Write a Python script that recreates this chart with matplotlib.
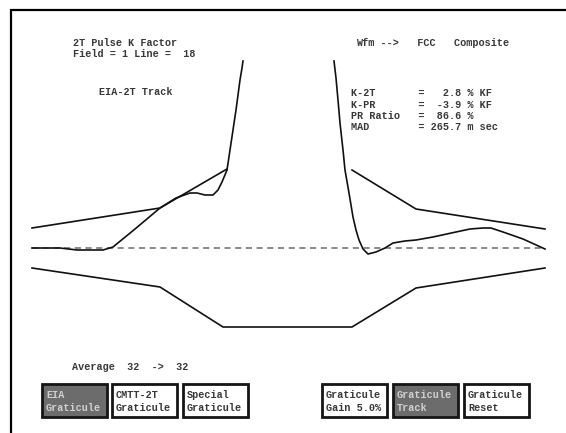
#!/usr/bin/env python3
"""
Recreation of a waveform-monitor screen: 2T pulse K-factor with EIA-2T graticule.
"""

import matplotlib
matplotlib.use('Agg')
import matplotlib.pyplot as plt
from matplotlib.patches import Rectangle

W, H = 566, 433
BASE_PX = 248          # screen row of the blanking level

# --- traces (x = screen column, amplitude = rows above blanking) ---------
env_up_left_x  = [32, 160, 227]
env_up_left_y  = [20, 40, 79]
env_up_right_x = [352, 416, 545]
env_up_right_y = [78, 39, 19]
env_low_x      = [32, 160, 223, 352, 416, 545]
env_low_y      = [-20, -39, -79, -79, -40, -20]

pulse_left_x = [32, 60, 77, 103, 113, 135, 160, 176, 190, 197, 205, 213, 218,
                222, 227, 230, 233, 236, 238, 240, 242, 243]
pulse_left_y = [0, 0, -2, -2, 1, 19, 40, 50, 55, 55, 53, 53, 58,
                66, 78, 98, 118, 138, 153, 168, 180, 187]
pulse_right_x = [334, 336, 338, 340, 343, 345, 349, 353, 356, 359, 363, 368,
                 376, 385, 393, 405, 416, 433, 456, 470, 483, 491, 503, 523, 545]
pulse_right_y = [187, 170, 148, 125, 98, 78, 55, 31, 18, 8, -1, -6,
                 -4, 0, 5, 7, 8, 11, 16, 19, 20, 20, 16, 9, -1]

# --- screen text ----------------------------------------------------------
header_left  = ['2T Pulse K Factor', 'Field = 1 Line =  18']
track_label  = 'EIA-2T Track'
header_right = 'Wfm -->   FCC   Composite'
stats_lines  = ['K-2T       =   2.8 % KF',
                'K-PR       =  -3.9 % KF',
                'PR Ratio   =  86.6 %',
                'MAD        = 265.7 m sec']
average_text = 'Average  32  ->  32'

buttons = [
    ('EIA', 'Graticule', True),
    ('CMTT-2T', 'Graticule', False),
    ('Special', 'Graticule', False),
    ('Graticule', 'Gain 5.0%', False),
    ('Graticule', 'Track', True),
    ('Graticule', 'Reset', False),
]
button_left = [42, 112, 183, 322, 393, 464]

FONT = dict(family='Liberation Mono', fontsize=7.3, weight='bold', color='#383838')


def main():
    fig = plt.figure(figsize=(W / 100, H / 100), dpi=100)
    fig.patch.set_facecolor('white')

    # UI layer in screen pixels
    ui = fig.add_axes([0, 0, 1, 1])
    ui.set_xlim(0, W)
    ui.set_ylim(H, 0)
    ui.axis('off')

    # trace layer: amplitude relative to blanking level
    tr = fig.add_axes([0, 0, 1, 1])
    tr.set_xlim(0, W)
    tr.set_ylim(BASE_PX - H, BASE_PX)
    tr.axis('off')
    tr.patch.set_alpha(0)

    # screen frame (left and top edges)
    ui.plot([11, 11, W], [H, 10, 10], color='black', linewidth=1.6,
            solid_joinstyle='miter')

    # blanking reference
    tr.plot([32, 545], [0, 0], color='#6a6a6a', linewidth=1.1,
            linestyle=(0, (4, 3)))

    trace = dict(color='#111111', linewidth=1.2)
    tr.plot(env_up_left_x, env_up_left_y, **trace)
    tr.plot(env_up_right_x, env_up_right_y, **trace)
    tr.plot(env_low_x, env_low_y, **trace)
    tr.plot(pulse_left_x, pulse_left_y, **trace)
    tr.plot(pulse_right_x, pulse_right_y, **trace)

    # text
    for i, s in enumerate(header_left):
        ui.text(73, 43 + 11 * i, s, va='center', ha='left', **FONT)
    ui.text(99, 92, track_label, va='center', ha='left', **FONT)
    ui.text(356, 43, header_right, va='center', ha='left', **FONT)
    for i, s in enumerate(stats_lines):
        ui.text(351, 93 + 11.5 * i, s, va='center', ha='left', **FONT)
    ui.text(72, 367, average_text, va='center', ha='left', **FONT)

    # soft-key buttons
    for (l1, l2, active), x0 in zip(buttons, button_left):
        face = '#6c6c6c' if active else 'white'
        ui.add_patch(Rectangle((x0, 384), 65, 33, facecolor=face,
                               edgecolor='#151515', linewidth=2.0))
        tcol = '#d0d0d0' if active else '#383838'
        f = dict(FONT, color=tcol)
        ui.text(x0 + 4, 395, l1, va='center', ha='left', **f)
        ui.text(x0 + 4, 408, l2, va='center', ha='left', **f)

    fig.savefig('out.png', dpi=100)


if __name__ == '__main__':
    main()
